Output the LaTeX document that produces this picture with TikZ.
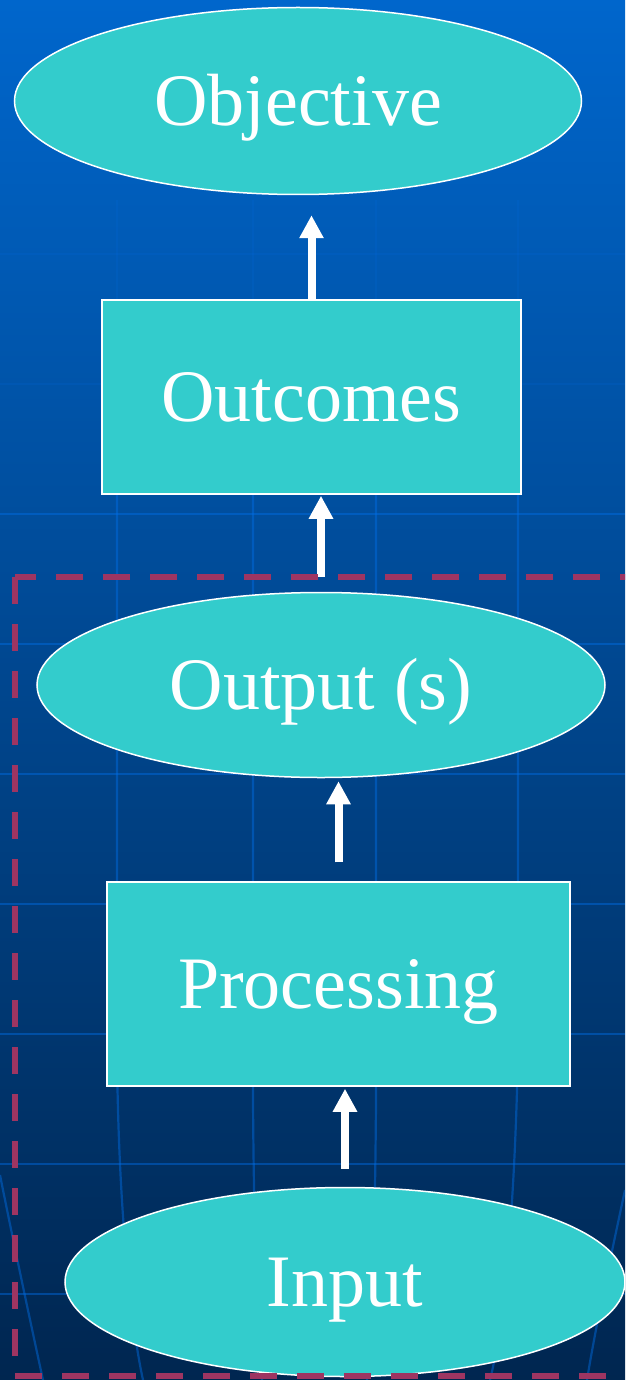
\documentclass[tikz,border=0pt]{standalone}
\usepackage{fontspec}
\setmainfont{Liberation Serif}
\usetikzlibrary{positioning, arrows.meta, shapes.geometric}
\usepackage{xcolor}
\definecolor{slidetop}{RGB}{0,102,204}
\definecolor{slidemid}{RGB}{0,80,160}
\definecolor{slidebot}{RGB}{0,38,80}
\definecolor{gridblue}{RGB}{0,110,230}
\definecolor{boxteal}{RGB}{51,204,204}
\definecolor{dashred}{RGB}{158,53,98}
\tikzset{stage/.style={draw=white, line width=1.5pt, fill=boxteal, text=white,
                       inner sep=0pt, text height=49pt, text depth=0pt,
                       font=\fontsize{74}{80}\selectfont},
         oval/.style={stage, ellipse},
         block/.style={stage, rectangle},
         gridline/.style={gridblue, opacity=0.45, line width=2.2pt},
         uparrow/.style={draw=white, line width=8pt, -{Triangle[width=23pt,length=23pt]}}}

\begin{document}
\begin{tikzpicture}[x=1pt, y=-1pt]

        % Background
        \useasboundingbox (0,0) rectangle (625,1380);
        \clip (0,0) rectangle (625,1380);
        \shade[top color=slidetop, middle color=slidemid, bottom color=slidebot] (0,0) rectangle (625,1380);

        % Grid behind the chart (fades into the top)
        \foreach \y in {254,384} 
            \draw[gridline, opacity=0.15] (0,\y) -- (625,\y);
        \foreach \y in {514,644,...,1294}
            \draw[gridline] (0,\y) -- (625,\y);
        \foreach \x in {117,253,376,518}
            \draw[gridline, opacity=0.15] (\x,200) -- (\x,480);
        \draw[gridline] (117,480) -- (117,1050) .. controls (118,1200) and (130,1320) .. (143,1380);
        \draw[gridline] (253,480) -- (253,1100) .. controls (254,1250) and (258,1330) .. (262,1380);
        \draw[gridline] (376,480) -- (376,1100) .. controls (375,1250) and (371,1330) .. (367,1380);
        \draw[gridline] (518,480) -- (518,1050) .. controls (515,1200) and (505,1320) .. (490,1380);
        \draw[gridline] (0,1175) .. controls (15,1250) and (30,1320) .. (43,1380);
        \draw[gridline] (625,1190) .. controls (610,1260) and (595,1330) .. (587,1380);

        % Stages
        \node[oval, minimum width=567pt, minimum height=187pt] (objective) at (298,101) {Objective};
        \node[block, minimum width=419pt, minimum height=194pt] (outcomes) at (311.5,397) {Outcomes};
        \node[oval, minimum width=568pt, minimum height=185pt] (output) at (321,685) {Output (s)};
        \node[block, minimum width=463pt, minimum height=204pt] (processing) at (338.5,984) {Processing};
        \node[oval, minimum width=560pt, minimum height=189pt] (input) at (345,1282) {Input};

        % Arrows between stages
        \draw[uparrow, shorten >=20pt] (outcomes.north) -- (outcomes.north |- objective.south);
        \draw[uparrow, shorten <=15pt, shorten >=1pt] (output.north) -- (output.north |- outcomes.south);
        \draw[uparrow, shorten <=19pt, shorten >=3pt] (processing.north) -- (processing.north |- output.south);
        \draw[uparrow, shorten <=18pt, shorten >=2pt] (input.north) -- (input.north |- processing.south);

        % Dashed frame round the lower part
        \draw[dashred, line width=6pt, dash pattern=on 27pt off 20pt] (15,577) rectangle (660,1376);

    \end{tikzpicture}
\end{document}
